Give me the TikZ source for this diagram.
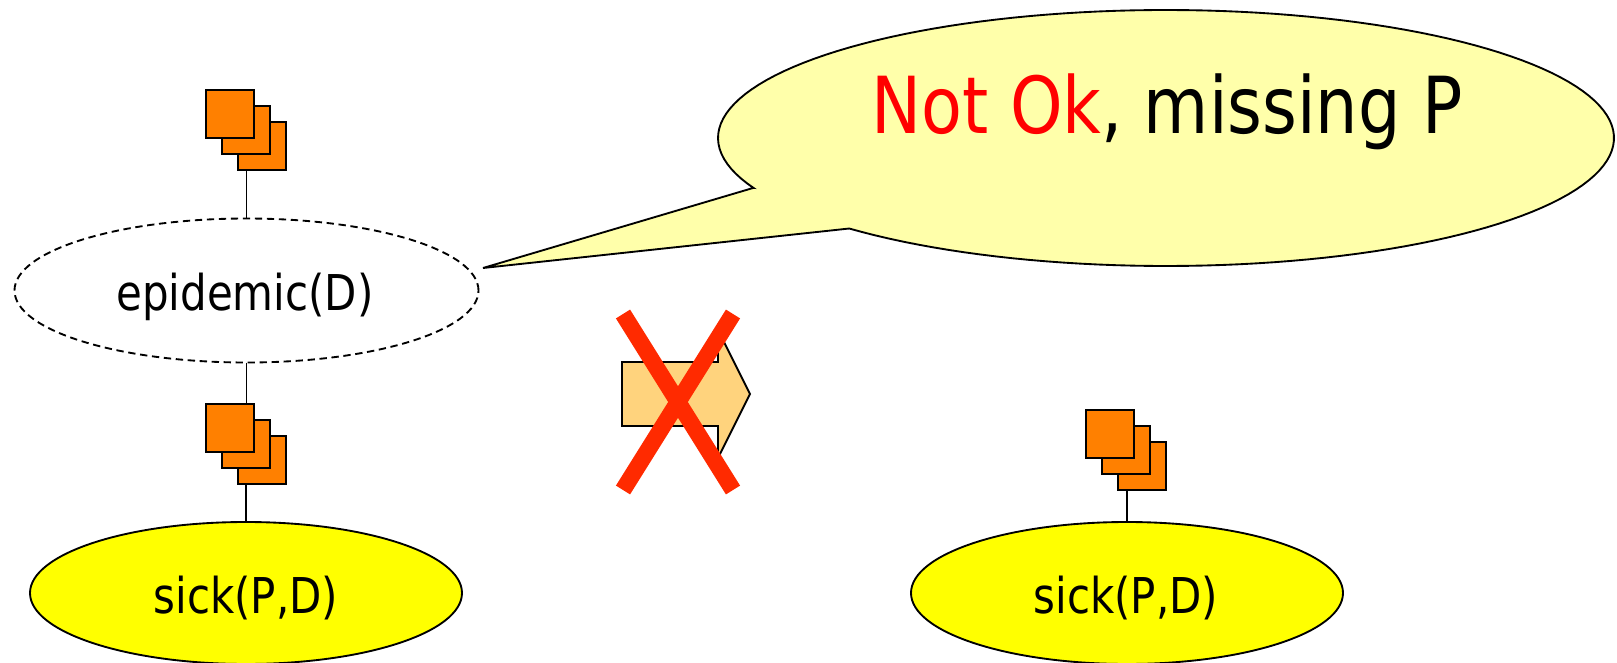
\documentclass[tikz,border=0pt]{standalone}
\usepackage{fontspec}
\setmainfont{DejaVu Sans}[FakeStretch=0.85]
\usetikzlibrary{shapes.geometric}
\definecolor{sq}{RGB}{255,128,0}
\definecolor{yel}{RGB}{255,255,0}
\definecolor{pale}{RGB}{255,255,170}
\definecolor{arr}{RGB}{255,211,125}
\definecolor{crs}{RGB}{255,42,0}
\tikzset{
  ln/.style={line width=1.4pt},
  sqbox/.style={ln,draw=black,fill=sq,minimum size=36pt,inner sep=0pt,outer sep=0pt,shape=rectangle},
  ell/.style={ln,draw=black,shape=ellipse,inner sep=0pt,outer sep=0pt},
  sickell/.style={ell,fill=yel,minimum width=324pt,minimum height=106.5pt},
  lab/.style={font=\fontsize{37}{42}\selectfont,inner sep=0pt},
  crossline/.style={crs,line width=12.5pt}
}
\begin{document}
\begin{tikzpicture}[x=0.75pt,y=-0.75pt]
\useasboundingbox (0,0) rectangle (1617,663);
% callout
\draw[ln,fill=pale,line join=miter] (483,268) -- (753,188)
  -- plot[domain=157:495,samples=150] ({1166+448*cos(\x)},{138+128*sin(\x)}) -- cycle;
\node[font=\fontsize{59}{66}\selectfont,inner sep=0pt] (say) at (1167,112) {\textcolor{red}{Not Ok}, missing P};
% ellipses
\node[ell,dashed,dash pattern=on 5.5pt off 3.5pt,minimum width=348pt,minimum height=108pt] (epi) at (246.5,290.5) {};
\node[lab] (epil) at (245,297) {epidemic(D)};
\node[sickell] (sickL) at (246,593) {};
\node[lab] (sickLl) at (246,598) {sick(P,D)};
\node[sickell] (sickR) at (1127,593) {};
\node[lab] (sickRl) at (1126,598) {sick(P,D)};
% squares
\node[sqbox] (t3) at (262,146) {};
\node[sqbox] (t2) at (246,130) {};
\node[sqbox] (t1) at (230,114) {};
\node[sqbox] (m3) at (262,460) {};
\node[sqbox] (m2) at (246,444) {};
\node[sqbox] (m1) at (230,428) {};
\node[sqbox] (r3) at (1142,466) {};
\node[sqbox] (r2) at (1126,450) {};
\node[sqbox] (r1) at (1110,434) {};
% connectors
\draw[ln] (epi.north) -- (epi.north |- t3.south);
\draw[ln] (epi.south) -- (epi.south |- m1.north);
\draw[ln] (sickL.north) -- (sickL.north |- m3.south);
\draw[ln] (sickR.north) -- (sickR.north |- r3.south);
% arrow
\draw[ln,fill=arr,line join=miter] (622,362) -- (718,362) -- (718,330) -- (750,394) -- (718,458) -- (718,426) -- (622,426) -- cycle;
% cross
\draw[crossline] (623,314) -- (733,490);
\draw[crossline] (733,314) -- (623,490);
\end{tikzpicture}
\end{document}
